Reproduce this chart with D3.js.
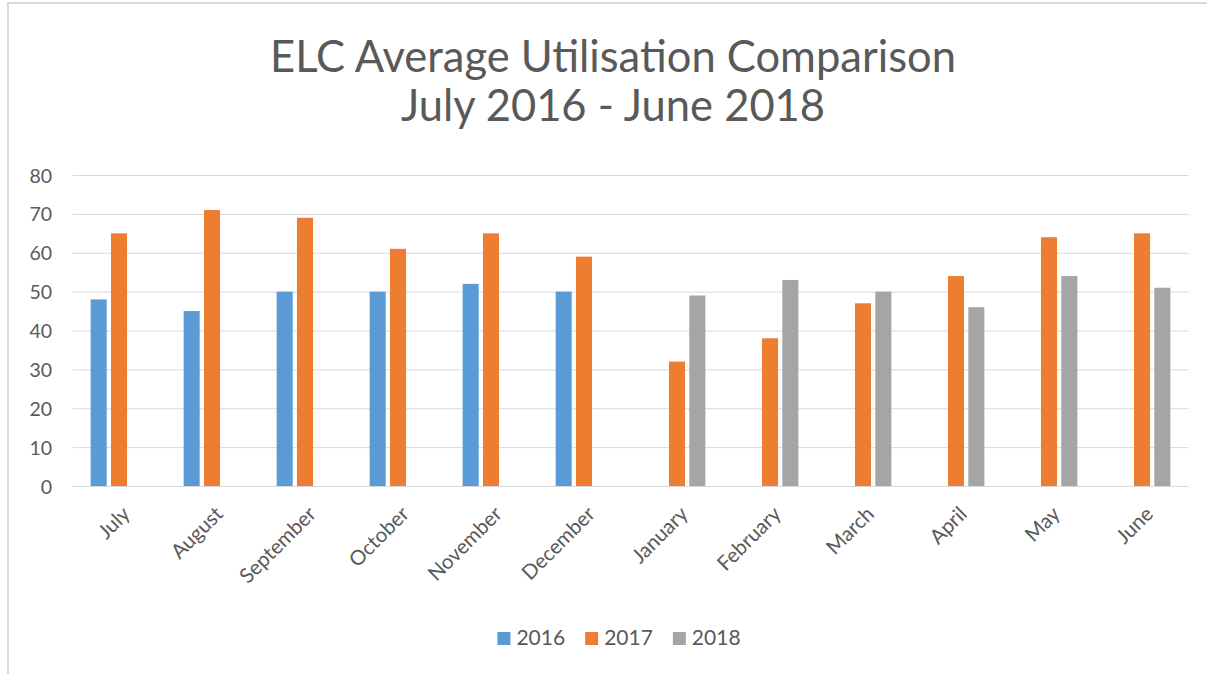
<!DOCTYPE html>
<html><head><meta charset="utf-8">
<script src="https://cdn.jsdelivr.net/npm/d3@7"></script>
<style>
html,body{margin:0;padding:0;background:#fff;}
svg{display:block;font-family:Lato,"Open Sans",sans-serif;}
</style></head>
<body>
<svg id="chart" width="1207" height="674"></svg>
<script>
const months = ["July","August","September","October","November","December","January","February","March","April","May","June"];
const seriesNames = ["2016","2017","2018"];
const values2016 = [48,45,50,50,52,50,null,null,null,null,null,null];
const values2017 = [65,71,69,61,65,59,32,38,47,54,64,65];
const values2018 = [null,null,null,null,null,null,49,53,50,46,54,51];
const colors = ["#5B9BD5","#ED7D31","#A5A5A5"];
const yTicks = [0,10,20,30,40,50,60,70,80];
const titleLines = ["ELC Average Utilisation Comparison","July 2016 - June 2018"];

const seriesValues = [values2016, values2017, values2018];
const svg = d3.select("#chart");
const textColor = "#595959";

// border
svg.append("rect").attr("x",8).attr("y",3).attr("width",1300).attr("height",800)
  .attr("fill","none").attr("stroke","#D9D9D9").attr("stroke-width",2);

const plot = {left:72.5, right:1188.5, top:175, bottom:486};

const x0 = d3.scaleBand().domain(months).range([plot.left, plot.right]).padding(0);
const groupW = x0.bandwidth()*0.61;
const x1 = d3.scaleBand().domain(seriesNames)
  .range([(x0.bandwidth()-groupW)/2, (x0.bandwidth()+groupW)/2]).paddingInner(0.21).paddingOuter(0);
const y = d3.scaleLinear().domain([0,80]).range([plot.bottom, plot.top]);

// gridlines
svg.append("g").selectAll("line").data(yTicks).join("line")
  .attr("x1",plot.left).attr("x2",plot.right)
  .attr("y1",d=>y(d)+0.5).attr("y2",d=>y(d)+0.5)
  .attr("stroke","#D9D9D9").attr("stroke-width",1);

// y axis labels
const yAxis = d3.axisLeft(y).tickValues(yTicks).tickSize(0).tickPadding(0);
const gy = svg.append("g").attr("transform",`translate(${52},0)`).call(yAxis);
gy.select(".domain").remove();
gy.selectAll("text").attr("font-size",19.5).attr("fill",textColor)
  .attr("font-family","Lato, 'Open Sans', sans-serif").attr("dy","0.36em");

// bars
const data = [];
months.forEach((m,i)=>{
  seriesNames.forEach((s,j)=>{
    const v = seriesValues[j][i];
    if (v!==null && v!==undefined) data.push({m,s,v,c:colors[j]});
  });
});
svg.append("g").selectAll("rect").data(data).join("rect")
  .attr("x",d=>x0(d.m)+x1(d.s))
  .attr("width",x1.bandwidth())
  .attr("y",d=>y(d.v))
  .attr("height",d=>y(0)-y(d.v))
  .attr("fill",d=>d.c);

// x axis labels
const gx = svg.append("g");
gx.selectAll("text").data(months).join("text")
  .attr("transform",d=>`translate(${x0(d)+x0.bandwidth()/2+2},${plot.bottom+19}) rotate(-45)`)
  .attr("text-anchor","end").attr("dy","0.71em")
  .attr("font-size",20.5).attr("fill",textColor)
  .text(d=>d);

// title
svg.append("g").selectAll("text").data(titleLines).join("text")
  .attr("x",613).attr("y",(d,i)=>72+i*49)
  .attr("text-anchor","middle").attr("font-size",43.5).attr("fill",textColor)
  .text(d=>d);

// legend
const lg = svg.append("g");
const items = lg.selectAll("g").data(seriesNames).join("g");
items.append("rect").attr("width",13).attr("height",13).attr("y",-13).attr("fill",(d,i)=>colors[i]);
items.append("text").attr("x",19).attr("font-size",21).attr("fill",textColor).text(d=>d);
let cx = 0;
items.each(function(d){
  const tw = d3.select(this).select("text").node().getComputedTextLength();
  d3.select(this).attr("transform",`translate(${cx},0)`);
  cx += 19 + tw + 20;
});
const totalW = cx - 20;
lg.attr("transform",`translate(${619 - totalW/2},${645})`);
</script>
</body></html>
